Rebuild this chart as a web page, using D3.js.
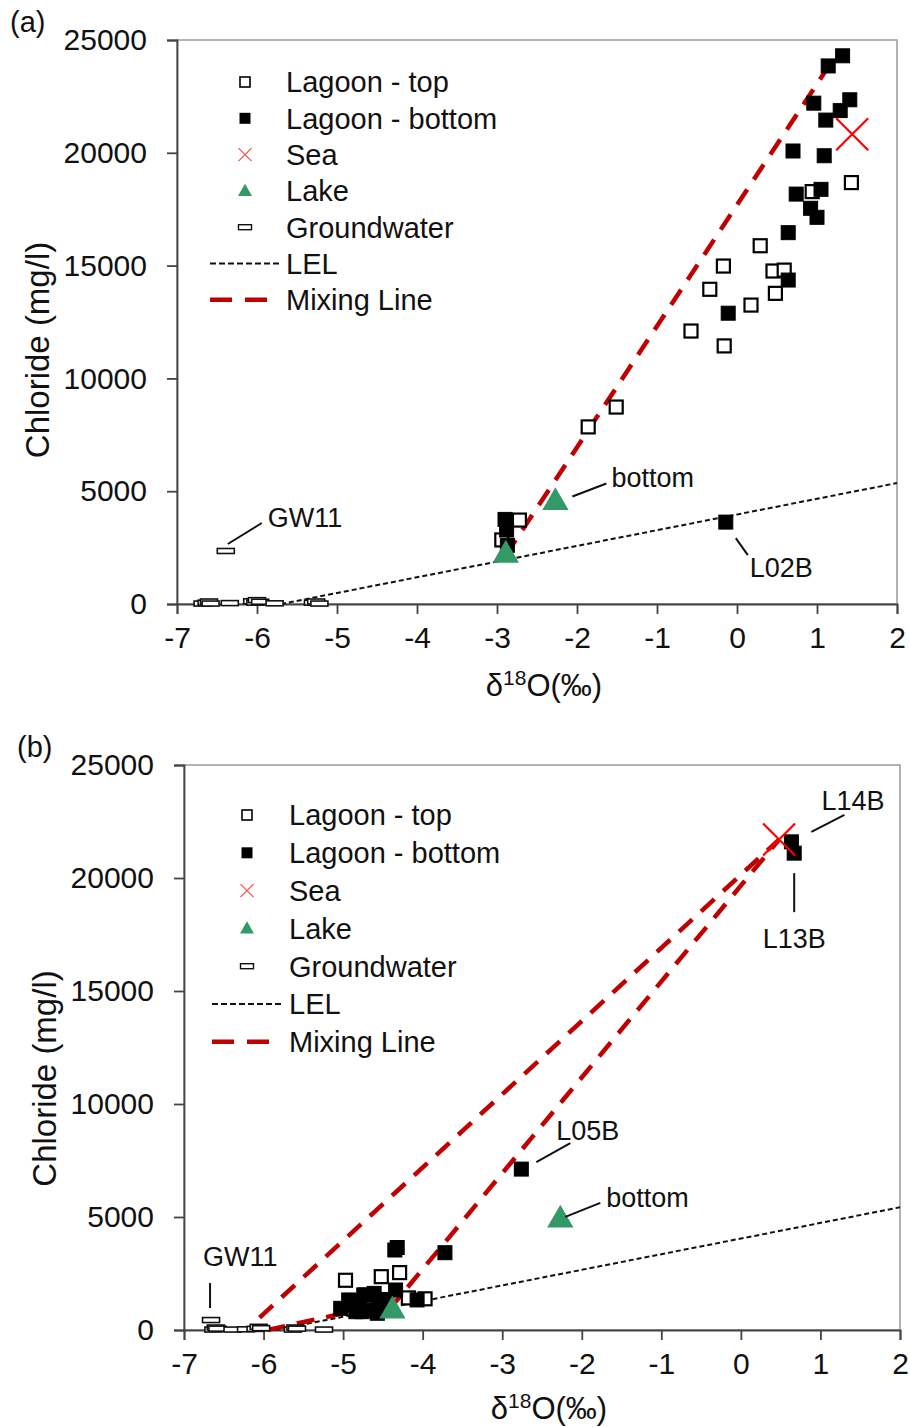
<!DOCTYPE html>
<html>
<head>
<meta charset="utf-8">
<script src="https://cdn.jsdelivr.net/npm/d3@7"></script>
<style>
  body { margin: 0; background: #fff; }
  svg { display: block; }
  text { font-family: "Liberation Sans", Arial, sans-serif; fill: #111; }
</style>
</head>
<body>
<svg id="chart" width="910" height="1427"></svg>
<script>
// ---------- shared axis values ----------
const xTicks = [-7, -6, -5, -4, -3, -2, -1, 0, 1, 2];
const yTicks = [0, 5000, 10000, 15000, 20000, 25000];
const legendLabels = ["Lagoon - top", "Lagoon - bottom", "Sea", "Lake", "Groundwater", "LEL", "Mixing Line"];

// ---------- panel (a): [δ18O ‰, chloride mg/l] ----------
const lagoonTopA = [
  [1.43, 18680], [0.94, 18280], [0.29, 15880], [-0.17, 14980], [0.45, 14760],
  [0.59, 14800], [-0.34, 13950], [0.48, 13770], [0.175, 13250], [-0.575, 12100],
  [-0.16, 11440], [-1.51, 8730], [-1.86, 7850], [-2.72, 3720], [-2.94, 2840]
];
const lagoonBottomA = [
  [1.32, 24300], [1.14, 23850], [1.41, 22350], [0.96, 22200], [1.29, 21870],
  [1.11, 21450], [0.70, 20080], [1.09, 19870], [1.05, 18380], [0.74, 18170],
  [0.92, 17540], [1.00, 17140], [0.64, 16460], [0.64, 14360], [-0.11, 12890],
  [-0.14, 3630], [-2.90, 3750], [-2.88, 3280], [-2.87, 2600]
];
const seaA = [[1.44, 20820]];
const lakeA = [[-2.27, 4500], [-2.89, 2170]];
const groundwaterA = [
  [-6.68, 20], [-6.63, 60], [-6.60, 110], [-6.58, 20], [-6.34, 40],
  [-6.06, 120], [-6.02, 60], [-6.00, 170], [-5.96, 100], [-5.78, 30],
  [-5.30, 60], [-5.26, 110], [-5.22, 20], [-6.39, 2350]
];
const lelA = [[-5.70, 0], [2, 5360]];
const mixingA = [[[-2.89, 2170], [1.12, 23700]]];
const notesA = ["GW11", "bottom", "L02B"];

// ---------- panel (b) ----------
const lagoonTopB = [
  [-4.97, 2200], [-4.52, 2360], [-4.29, 2540], [-4.74, 1550], [-4.18, 1420],
  [-3.97, 1380]
];
const lagoonBottomB = [
  [0.635, 21600], [0.67, 21100], [-2.76, 7120], [-4.35, 3540], [-4.32, 3650],
  [-3.72, 3420], [-5.03, 960], [-4.90, 1100], [-4.80, 1250], [-4.72, 1550],
  [-4.61, 1620], [-4.68, 880], [-4.57, 740], [-4.47, 1030], [-4.34, 1770],
  [-4.84, 810], [-4.76, 810], [-4.93, 1330], [-4.07, 1330], [-4.45, 1350],
  [-4.55, 1200]
];
const seaB = [[0.48, 21700]];
const lakeB = [[-2.27, 4870], [-4.38, 850]];
const groundwaterB = [
  [-6.63, 20], [-6.60, 110], [-6.58, 60], [-6.39, 20], [-6.22, 30],
  [-6.10, 50], [-6.06, 140], [-6.03, 80], [-5.63, 20], [-5.60, 110],
  [-5.58, 60], [-5.24, 20], [-6.66, 440]
];
const lelB = [[-5.85, 0], [2, 5430]];
const mixingB = [
  [[-6.05, 550], [0.48, 21700]],
  [[-5.95, 0], [-4.34, 1250], [0.48, 21700]]
];
const notesB = ["L14B", "L13B", "L05B", "bottom", "GW11"];

const svg = d3.select("#chart");
const RED = "#c00000";

function drawPanel(p) {
  const x = d3.scaleLinear().domain([-7, 2]).range([p.left, p.right]);
  const y = d3.scaleLinear().domain([0, 25000]).range([p.bottom, p.top]);
  const g = svg.append("g");

  // plot frame
  g.append("rect")
    .attr("x", p.left).attr("y", p.top)
    .attr("width", p.right - p.left).attr("height", p.bottom - p.top)
    .attr("fill", "none").attr("stroke", "#999").attr("stroke-width", 1.5);

  // axes (plain hyphen minus signs on tick labels)
  const xAxis = g.append("g").attr("transform", `translate(0,${p.bottom})`)
    .call(d3.axisBottom(x).tickValues(xTicks).tickSize(10).tickPadding(13).tickFormat(d => String(d)));
  const yAxis = g.append("g").attr("transform", `translate(${p.left},0)`)
    .call(d3.axisLeft(y).tickValues(yTicks).tickSize(10).tickPadding(20).tickFormat(d => String(d)));
  [xAxis, yAxis].forEach(a => {
    a.select(".domain").attr("stroke", "#444").attr("stroke-width", 1.8);
    a.selectAll(".tick line").attr("stroke", "#444").attr("stroke-width", 1.8);
    a.selectAll(".tick text").attr("font-size", 30).attr("fill", "#111")
      .style("font-family", '"Liberation Sans", Arial, sans-serif');
  });

  // axis titles
  g.append("text")
    .attr("transform", `translate(${p.yTitleX},${(p.top + p.bottom) / 2 + p.yTitleDy}) rotate(-90)`)
    .attr("text-anchor", "middle").attr("dy", "0.35em").attr("font-size", 33)
    .text("Chloride (mg/l)");
  const xt = g.append("text")
    .attr("x", (p.left + p.right) / 2 + 7).attr("y", p.bottom + p.xTitleDy)
    .attr("text-anchor", "middle").attr("font-size", 31);
  xt.append("tspan").text("δ");
  xt.append("tspan").attr("font-size", 21).attr("dy", -11).text("18");
  xt.append("tspan").attr("dy", 11).text("O(‰)");

  // panel tag
  g.append("text").attr("x", p.tagX).attr("y", p.top - 8).attr("font-size", 29).text(p.tag);

  const line = d3.line().x(d => x(d[0])).y(d => y(d[1]));

  // evaporation line
  g.append("path").datum(p.lel).attr("d", line)
    .attr("fill", "none").attr("stroke", "#111").attr("stroke-width", 2)
    .attr("stroke-dasharray", "5,3");

  // mixing lines
  p.mixing.forEach(m => {
    g.append("path").datum(m).attr("d", line)
      .attr("fill", "none").attr("stroke", RED).attr("stroke-width", 4.5)
      .attr("stroke-dasharray", "18,12");
  });

  // groundwater markers (flat bars)
  g.selectAll(null).data(p.groundwater).join("rect")
    .attr("x", d => x(d[0]) - 8.5).attr("y", d => y(d[1]) - 2.5)
    .attr("width", 17).attr("height", 5)
    .attr("fill", "#fff").attr("stroke", "#111").attr("stroke-width", 1.6);

  // lagoon top (open squares)
  g.selectAll(null).data(p.top_).join("rect")
    .attr("x", d => x(d[0]) - 6.5).attr("y", d => y(d[1]) - 6.5)
    .attr("width", 13).attr("height", 13)
    .attr("fill", "#fff").attr("stroke", "#000").attr("stroke-width", 2.2);

  // lagoon bottom (filled squares)
  g.selectAll(null).data(p.bottomPts).join("rect")
    .attr("x", d => x(d[0]) - 7).attr("y", d => y(d[1]) - 7)
    .attr("width", 14).attr("height", 14)
    .attr("fill", "#000").attr("stroke", "#000").attr("stroke-width", 1);

  // lake (triangles)
  const tri = d3.symbol().type(d3.symbolTriangle).size(300);
  g.selectAll(null).data(p.lake).join("path")
    .attr("d", tri)
    .attr("transform", d => `translate(${x(d[0])},${y(d[1])})`)
    .attr("fill", "#339966");

  // sea (cross)
  p.sea.forEach(d => {
    const cx = x(d[0]), cy = y(d[1]), r = 16;
    g.append("path")
      .attr("d", `M${cx - r},${cy - r}L${cx + r},${cy + r}M${cx - r},${cy + r}L${cx + r},${cy - r}`)
      .attr("stroke", "#ff0000").attr("stroke-width", 2.2).attr("fill", "none");
  });

  // point notes with leader lines
  p.notes.forEach(n => {
    const px = x(n.pt[0]), py = y(n.pt[1]);
    g.append("line")
      .attr("x1", px + n.l[0]).attr("y1", py + n.l[1])
      .attr("x2", px + n.l[2]).attr("y2", py + n.l[3])
      .attr("stroke", "#111").attr("stroke-width", 2);
    g.append("text")
      .attr("x", px + n.t[0]).attr("y", py + n.t[1])
      .attr("text-anchor", n.anchor || "start")
      .attr("font-size", 27).text(n.text);
  });

  // legend
  const lg = g.append("g");
  legendLabels.forEach((lab, i) => {
    const cy = p.legY + i * p.legStep;
    const mx = p.legX;
    if (i === 0) {
      lg.append("rect").attr("x", mx - 5).attr("y", cy - 5).attr("width", 10).attr("height", 10)
        .attr("fill", "#fff").attr("stroke", "#000").attr("stroke-width", 1.6);
    } else if (i === 1) {
      lg.append("rect").attr("x", mx - 5.5).attr("y", cy - 5.5).attr("width", 11).attr("height", 11)
        .attr("fill", "#000");
    } else if (i === 2) {
      const r = 6.5;
      lg.append("path")
        .attr("d", `M${mx - r},${cy - r}L${mx + r},${cy + r}M${mx - r},${cy + r}L${mx + r},${cy - r}`)
        .attr("stroke", "#ff5050").attr("stroke-width", 1.3);
    } else if (i === 3) {
      lg.append("path").attr("d", d3.symbol().type(d3.symbolTriangle).size(85))
        .attr("transform", `translate(${mx},${cy + 1})`).attr("fill", "#339966");
    } else if (i === 4) {
      lg.append("rect").attr("x", mx - 6.5).attr("y", cy - 2.5).attr("width", 13).attr("height", 5)
        .attr("fill", "#fff").attr("stroke", "#111").attr("stroke-width", 1.4);
    } else if (i === 5) {
      lg.append("line").attr("x1", p.legX - 35).attr("x2", p.legX + 35).attr("y1", cy).attr("y2", cy)
        .attr("stroke", "#111").attr("stroke-width", 1.8).attr("stroke-dasharray", "6,3");
    } else {
      lg.append("line").attr("x1", p.legX - 35).attr("x2", p.legX + 22).attr("y1", cy).attr("y2", cy)
        .attr("stroke", RED).attr("stroke-width", 4.5).attr("stroke-dasharray", "22,13");
    }
    lg.append("text").attr("x", p.legText).attr("y", cy).attr("dy", "0.36em")
      .attr("font-size", 29).text(lab);
  });
}

drawPanel({
  tag: "(a)", tagX: 10,
  left: 177, right: 897, top: 40, bottom: 604,
  yTitleX: 37, yTitleDy: 28, xTitleDy: 92,
  legX: 245, legText: 286, legY: 82, legStep: 36.3,
  top_: lagoonTopA, bottomPts: lagoonBottomA, sea: seaA, lake: lakeA,
  groundwater: groundwaterA, lel: lelA, mixing: mixingA,
  notes: [
    { text: notesA[0], pt: groundwaterA[13], l: [2, -7, 36, -28], t: [42, -24] },
    { text: notesA[1], pt: lakeA[0], l: [17, -6, 51, -19], t: [56, -15] },
    { text: notesA[2], pt: lagoonBottomA[15], l: [10, 16, 22, 33], t: [24, 55] }
  ]
});

drawPanel({
  tag: "(b)", tagX: 17,
  left: 184, right: 900, top: 765, bottom: 1330,
  yTitleX: 44, yTitleDy: 31, xTitleDy: 89,
  legX: 247, legText: 289, legY: 815, legStep: 37.8,
  top_: lagoonTopB, bottomPts: lagoonBottomB, sea: seaB, lake: lakeB,
  groundwater: groundwaterB, lel: lelB, mixing: mixingB,
  notes: [
    { text: notesB[0], pt: lagoonBottomB[0], l: [20, -10, 53, -27], t: [30, -32] },
    { text: notesB[1], pt: lagoonBottomB[1], l: [0, 20, 0, 59], t: [0, 95], anchor: "middle" },
    { text: notesB[2], pt: lagoonBottomB[2], l: [15, -7, 49, -26], t: [35, -29] },
    { text: notesB[3], pt: lakeB[0], l: [5, -3, 40, -17], t: [46, -13] },
    { text: notesB[4], pt: groundwaterB[12], l: [-1, -37, -1, -12], t: [-8, -54] }
  ]
});
</script>
</body>
</html>
